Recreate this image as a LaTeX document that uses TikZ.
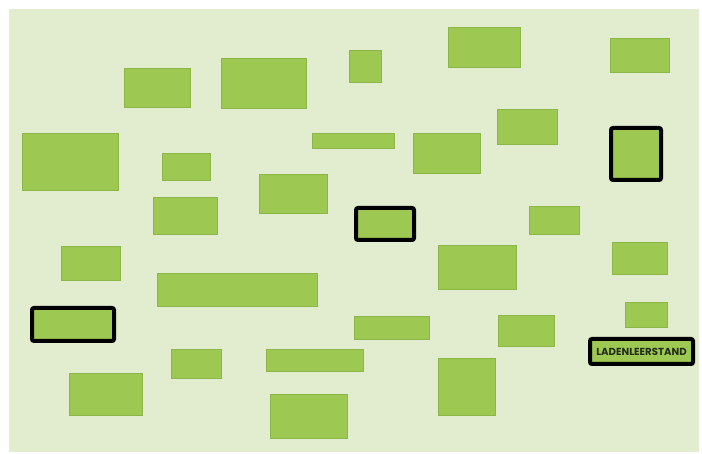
\documentclass[tikz,border=0pt]{standalone}
\usepackage{fontspec}
\newfontfamily\labelfont{Poppins}
\definecolor{bgGreen}{RGB}{226,236,206}
\definecolor{boxGreen}{RGB}{157,200,82}
\definecolor{boxEdge}{RGB}{140,182,72}
\definecolor{labelGray}{RGB}{35,45,25}
\begin{document}
\begin{tikzpicture}[
    x=1pt, y=-1pt,
    wh/.style 2 args={minimum width=#1pt, minimum height=#2pt},
    mybox/.style={rectangle, fill=boxGreen, draw=boxEdge, line width=0.6pt, inner sep=0pt, outer sep=0pt},
    myhl/.style={rectangle, fill=boxGreen, draw=black, line width=4pt, rounded corners=2pt, inner sep=0pt, outer sep=0pt},
    mylabel/.style={font=\labelfont\bfseries\fontsize{10.2}{11}\selectfont, text=labelGray}
]
    % page and background
    \useasboundingbox (0,0) rectangle (702,454);
    \fill[white] (0,0) rectangle (702,454);
    \fill[bgGreen] (9,9) rectangle (699,452);

    % plain boxes
    \node[mybox, wh={66}{39}] (b1) at (157,87.5) {};
    \node[mybox, wh={85}{50}] (b2) at (263.5,83) {};
    \node[mybox, wh={96}{57}] (b3) at (70,161.5) {};
    \node[mybox, wh={48}{27}] (b4) at (186,166.5) {};
    \node[mybox, wh={68}{39}] (b5) at (293,193.5) {};
    \node[mybox, wh={64}{37}] (b6) at (185,215.5) {};
    \node[mybox, wh={32}{32}] (b7) at (365,66) {};
    \node[mybox, wh={82}{15}] (b8) at (353,140.5) {};
    \node[mybox, wh={72}{40}] (b9) at (484,47) {};
    \node[mybox, wh={59}{34}] (b10) at (639.5,55) {};
    \node[mybox, wh={67}{40}] (b11) at (446.5,153) {};
    \node[mybox, wh={60}{35}] (b12) at (527,126.5) {};
    \node[mybox, wh={50}{28}] (b15) at (554,220) {};
    \node[mybox, wh={59}{34}] (b16) at (90.5,263) {};
    \node[mybox, wh={160}{33}] (b17) at (237,289.5) {};
    \node[mybox, wh={50}{29}] (b19) at (196,363.5) {};
    \node[mybox, wh={97}{22}] (b20) at (314.5,360) {};
    \node[mybox, wh={73}{42}] (b21) at (105.5,394) {};
    \node[mybox, wh={77}{44}] (b22) at (308.5,416) {};
    \node[mybox, wh={78}{44}] (b23) at (477,267) {};
    \node[mybox, wh={55}{32}] (b24) at (639.5,258) {};
    \node[mybox, wh={75}{23}] (b25) at (391.5,327.5) {};
    \node[mybox, wh={56}{31}] (b26) at (526,330.5) {};
    \node[mybox, wh={42}{25}] (b27) at (646,314.5) {};
    \node[mybox, wh={57}{57}] (b29) at (466.5,386.5) {};

    % highlighted boxes
    \node[myhl, wh={50}{52}] (h1) at (636,154) {};
    \node[myhl, wh={58}{32}] (h2) at (385,224) {};
    \node[myhl, wh={82}{33}] (h3) at (73,324.5) {};
    \node[myhl, wh={103}{25}, mylabel] (leer) at (641.5,351.5) {LADENLEERSTAND};
\end{tikzpicture}
\end{document}
